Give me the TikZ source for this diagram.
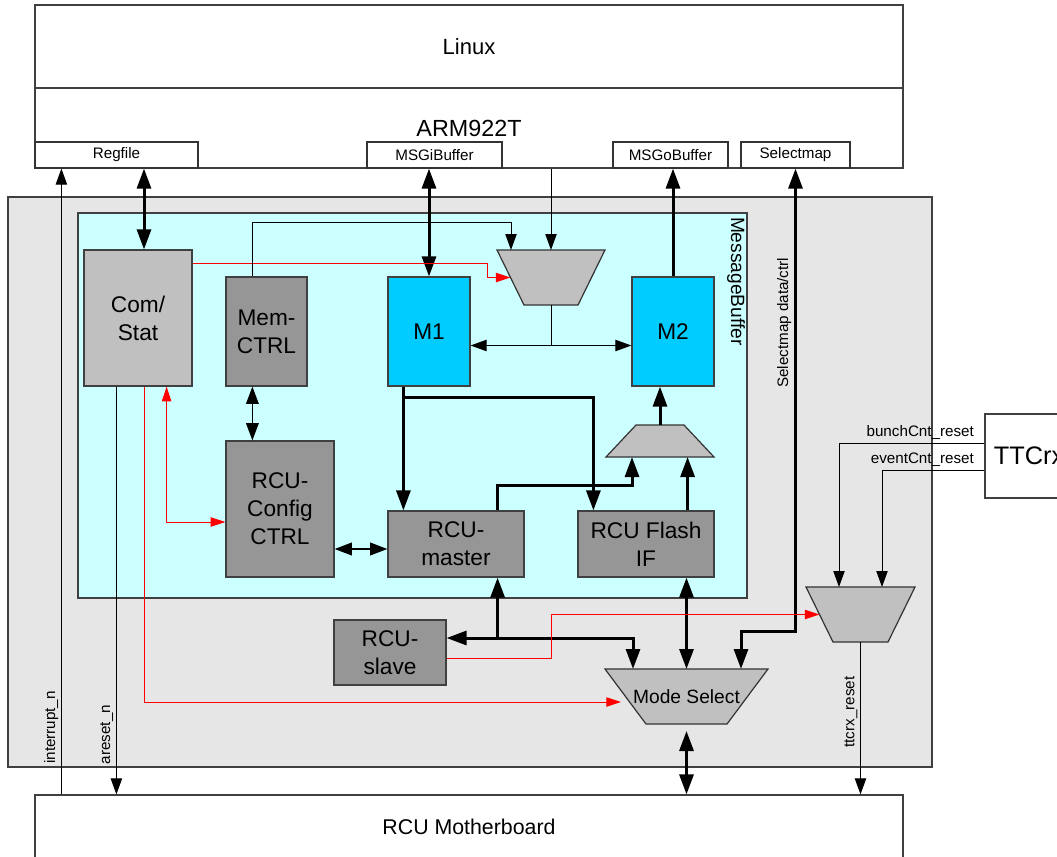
\documentclass[tikz,border=0pt]{standalone}
\usepackage{fontspec}
\setmainfont{Liberation Sans}
\usetikzlibrary{arrows.meta,calc}

\definecolor{fpgagray}{HTML}{E6E6E6}
\definecolor{mbcyan}{HTML}{CCFFFF}
\definecolor{lightblk}{HTML}{C0C0C0}
\definecolor{darkblk}{HTML}{969696}
\definecolor{memblue}{HTML}{00CCFF}

\tikzset{
  Tn/.tip={Triangle[length=12pt,width=8.5pt]},
  Tm/.tip={Triangle[length=13pt,width=9.5pt]},
  Tk/.tip={Triangle[length=15pt,width=10.5pt]},
  Tr/.tip={Triangle[length=11pt,width=7pt]}
}

% mux outlines, drawn on an invisible box node
\newcommand{\muxdn}[3]{%
  \filldraw[muxs] (#1.north west) -- (#1.north east) -- ($(#1.south east)+(-#2,0)$) -- ($(#1.south west)+(#2,0)$) -- cycle;
  \node[muxtxt] (#1-t) at (#1.center) {#3};}
\newcommand{\muxup}[3]{%
  \filldraw[muxs] (#1.south west) -- (#1.south east) -- ($(#1.north east)+(-#2,0)$) -- ($(#1.north west)+(#2,0)$) -- cycle;
  \node[muxtxt] (#1-t) at (#1.center) {#3};}

\begin{document}
\begin{tikzpicture}[x=0.75pt,y=-0.75pt,
  blk/.style={draw=black!75, line width=0.9pt, inner sep=0pt, align=center, font=\fontsize{17}{21}\selectfont},
  port/.style={draw=black!80, fill=white, line width=0.9pt, inner sep=0pt, font=\fontsize{11.4}{13}\selectfont},
  sz/.style 2 args={minimum width=#1*0.75pt, minimum height=#2*0.75pt},
  muxbox/.style={inner sep=0pt, outer sep=0pt},
  muxs/.style={fill=lightblk, draw=black!80, line width=0.9pt},
  muxtxt/.style={inner sep=0pt, font=\fontsize{14.4}{16}\selectfont},
  lbl/.style={inner sep=2pt, font=\fontsize{11.4}{13}\selectfont},
  sig/.style={line width=0.75pt},
  med/.style={line width=1.4pt},
  bus/.style={line width=2.25pt},
  redl/.style={red, line width=0.75pt}]
  \clip (0,0) rectangle (1057,857);
  \fill[white] (0,0) rectangle (1057,857);

  % host side
  \node[blk, fill=white, sz={868}{83}, font=\fontsize{16.5}{20}\selectfont] (linux) at (469,46.5) {Linux};
  \node[blk, fill=white, sz={868}{80}, font=\fontsize{17.5}{20}\selectfont] (arm) at (469,128) {ARM922T};
  \node[port, sz={163}{26}] (regfile) at (116.5,155) {Regfile};
  \node[port, sz={135}{26}] (msgi) at (434.5,155) {MSGiBuffer};
  \node[port, sz={115}{26}] (msgo) at (670.5,155) {MSGoBuffer};
  \node[port, sz={109}{26}] (selmap) at (795.5,155) {Selectmap};

  % FPGA and message buffer
  \node[blk, fill=fpgagray, sz={924}{570}] (fpga) at (470,482) {};
  \node[blk, fill=mbcyan, sz={669}{385}] (mbuf) at (412.5,405.5) {};
  \node[rotate=-90, anchor=north west, inner sep=1pt, font=\fontsize{14.4}{16}\selectfont] (mblabel) at ($(mbuf.north east)+(-1,3)$) {MessageBuffer};

  \node[blk, fill=lightblk, sz={108}{136}] (cs) at (138,318) {Com/\\Stat};
  \node[blk, fill=darkblk, sz={81}{109}] (mem) at (266.5,331.5) {Mem-\\CTRL};
  \node[blk, fill=memblue, sz={82}{109}] (m1) at (429,331.5) {M1};
  \node[blk, fill=memblue, sz={82}{109}] (m2) at (673,331.5) {M2};
  \node[blk, fill=darkblk, sz={108}{136}] (cfg) at (280,509) {RCU-\\Config\\CTRL};
  \node[blk, fill=darkblk, sz={136}{66}] (mst) at (456,544) {RCU-\\master};
  \node[blk, fill=darkblk, sz={136}{66}] (flash) at (646,544) {RCU Flash\\IF};
  \node[blk, fill=darkblk, sz={112}{65}] (slave) at (390,652.5) {RCU-\\slave};

  \node[muxbox, sz={108}{55}] (tm) at (551,277.5) {};
  \node[muxbox, sz={108}{32}] (lm) at (660,441) {};
  \node[muxbox, sz={163}{55}] (ms) at (686.5,696.5) {};
  \node[muxbox, sz={109}{55}] (txm) at (860.5,614.5) {};
  \muxdn{tm}{27}{}
  \muxup{lm}{30}{}
  \muxdn{ms}{41}{Mode Select}
  \muxdn{txm}{27}{}

  \node[blk, fill=white, sz={88}{84}, font=\fontsize{19}{22}\selectfont] (ttcrx) at (1029,456) {TTCrx};
  \node[blk, fill=white, sz={868}{64}, font=\fontsize{16}{20}\selectfont] (mb) at (469,827) {RCU Motherboard};

  % host links
  \coordinate (irq) at ($(regfile.south west)+(27,0)$);
  \draw[sig,Tn-] (irq) -- node[pos=0.893, rotate=90, anchor=south, lbl] {interrupt\_n} (irq |- mb.north);
  \coordinate (rst) at ($(cs.south west)+(33,0)$);
  \draw[sig,-Tn] (rst) -- node[pos=0.853, rotate=90, anchor=south, lbl] {areset\_n} (rst |- mb.north);
  \coordinate (csreg) at ($(cs.north)+(6,0)$);
  \draw[bus,Tk-Tk] (csreg |- regfile.south) -- (csreg);
  \draw[bus,Tk-Tk] (m1.north |- msgi.south) -- (m1.north);
  \draw[bus,-Tk] (m2.north) -- (m2.north |- msgo.south);
  \draw[bus,Tk-Tk] (selmap.south) -- node[pos=0.333, rotate=90, anchor=south, lbl] {Selectmap data/ctrl} ++(0,463) -| ($(ms.north east)+(-27,0)$);

  % message buffer
  \coordinate (tmw) at ($(tm.west)+(13.5,0)$);
  \draw[redl,-Tr] ($(cs.north east)+(0,14)$) -- ++(295,0) |- (tmw);
  \draw[sig,-Tn] ($(mem.north)+(-14.5,0)$) -- ++(0,-54) -| ($(tm.north west)+(14,0)$);
  \draw[sig,-Tn] (tm.north |- arm.south) -- (tm.north);
  \coordinate (mm) at ($(m1.east)+(0,14)$);
  \draw[sig,Tn-Tn] (mm) -- (mm -| m2.west);
  \draw[sig] (tm.south) -- (tm.south |- mm);

  \coordinate (m1o) at ($(m1.south west)+(16,0)$);
  \draw[bus,-Tk] (m1o) -- (m1o |- mst.north);
  \draw[bus,-Tk] ($(m1o)+(0,11)$) -| ($(flash.north west)+(16,0)$);
  \draw[bus,-Tk] ($(mst.north east)+(-27,0)$) -- ++(0,-25) -| ($(lm.south west)+(26,0)$);
  \coordinate (flo) at ($(flash.north east)+(-27,0)$);
  \draw[bus,-Tk] (flo) -- (flo |- lm.south);
  \draw[bus,-Tk] (lm.north) -- (lm.north |- m2.south);

  \coordinate (mc) at ($(cfg.north west)+(27,0)$);
  \draw[sig,line width=1pt,Tm-Tm] (mc |- mem.south) -- (mc);
  \coordinate (cm) at ($(cfg.east)+(0,40)$);
  \draw[med,Tm-Tm] (cm) -- (cm -| mst.west);
  \draw[redl,Tr-Tr] ($(cs.south east)+(-26,0)$) |- ($(cfg.west)+(0,13)$);
  \draw[redl,-Tr] ($(cs.south)+(6,0)$) |- ($(ms.west)+(16,5.5)$);

  % mode select side
  \coordinate (mso) at ($(mst.south east)+(-27,0)$);
  \coordinate (sl) at ($(slave.east)+(0,-14.5)$);
  \draw[bus,Tk-Tk] (sl) -| ($(ms.north west)+(28,0)$);
  \draw[bus,-Tk] (mso |- sl) -- (mso);
  \draw[bus,Tk-Tk] (ms.north |- flash.south) -- (ms.north);
  \draw[bus,Tk-Tk] ($(ms.south)+(0,7)$) -- (ms.south |- mb.north);

  % TTCrx resets
  \coordinate (txw) at ($(txm.west)+(13.5,0)$);
  \draw[redl,-Tr] ($(slave.east)+(0,5.5)$) -- ++(105,0) |- (txw);
  \draw[sig,-Tn] ($(ttcrx.west)+(0,-13)$) node[anchor=south east, lbl, xshift=-5.5pt] {bunchCnt\_reset} -| ($(txm.north west)+(33,0)$);
  \draw[sig,-Tn] ($(ttcrx.west)+(0,14)$) node[anchor=south east, lbl, xshift=-5.5pt] {eventCnt\_reset} -| ($(txm.north east)+(-33,0)$);
  \draw[sig,-Tn] (txm.south) -- node[pos=0.46, rotate=90, anchor=south, lbl] {ttcrx\_reset} (txm.south |- mb.north);
\end{tikzpicture}
\end{document}
